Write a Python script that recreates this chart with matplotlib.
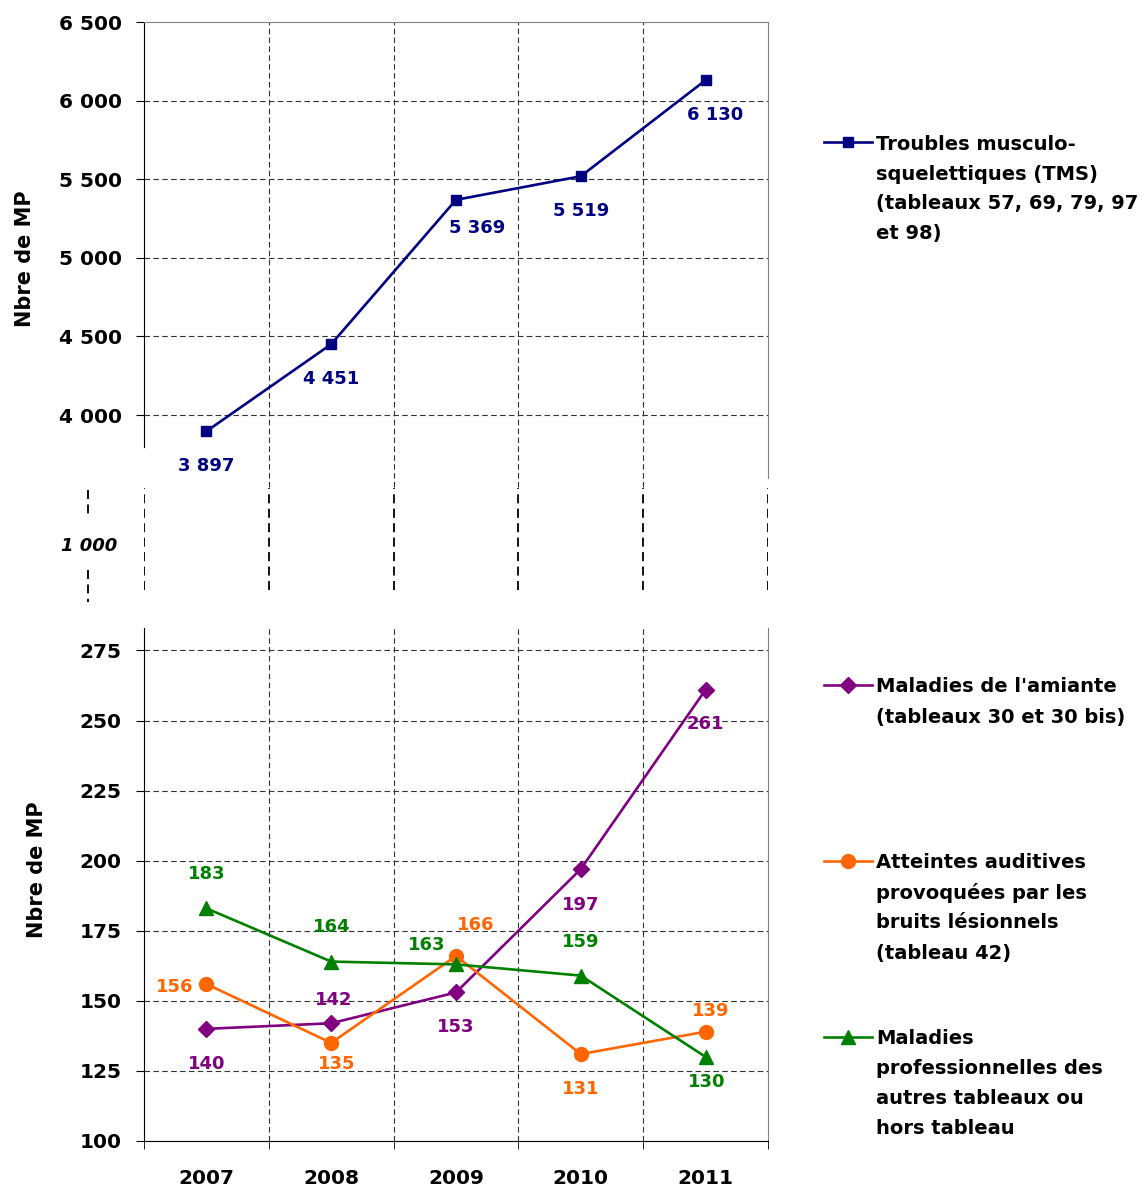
import matplotlib
matplotlib.use('Agg')
import matplotlib.pyplot as plt
from matplotlib.lines import Line2D
from matplotlib.ticker import FuncFormatter, FixedLocator

plt.rcParams['font.family'] = ['DejaVu Sans']

years = ['2007', '2008', '2009', '2010', '2011']
tms = [3897, 4451, 5369, 5519, 6130]
amiante = [140, 142, 153, 197, 261]
auditives = [156, 135, 166, 131, 139]
autres = [183, 164, 163, 159, 130]

NAVY, PURPLE, ORANGE, GREEN = '#000080', '#800080', '#FF6600', '#008000'
W, H = 1145, 1188

def fr(x0, y0, x1, y1):
    # pixel box -> figure fraction [left, bottom, width, height]
    return [x0 / W, 1 - y1 / H, (x1 - x0) / W, (y1 - y0) / H]

def sp(v, _=None):
    return f"{int(v):,}".replace(',', ' ')

fig = plt.figure(figsize=(W / 100, H / 100), dpi=100)
ax_top = fig.add_axes(fr(144, 22, 768, 478))
ax_mid = fig.add_axes(fr(144, 488, 768, 590))
ax_bot = fig.add_axes(fr(144, 628, 768, 1141))

x = list(range(len(years)))
bounds = [i - 0.5 for i in range(len(years) + 1)]
GRID = dict(color='#333333', linewidth=0.8, linestyle=(0, (5, 3)))
TICK_FS = 14.5
LW = 1.9
LBL = dict(fontsize=13, fontweight='bold', ha='center', va='center',
           textcoords='offset points')

# ---- top panel: TMS
ax_top.plot(x, tms, color=NAVY, lw=LW, marker='s', ms=7.5, zorder=3)
ax_top.set_ylim(3600, 6500)
ax_top.set_xlim(-0.5, 4.5)
ax_top.yaxis.set_major_locator(FixedLocator([4000, 4500, 5000, 5500, 6000, 6500]))
ax_top.yaxis.set_major_formatter(FuncFormatter(sp))
for yv in [4000, 4500, 5000, 5500, 6000]:
    ax_top.axhline(yv, **GRID, zorder=1)
for b in bounds[1:-1]:
    ax_top.axvline(b, ymin=-0.02, **GRID, zorder=1, clip_on=False)
ax_top.set_xticks([])
ax_top.spines['bottom'].set_visible(False)
ax_top.spines['top'].set_color('#808080')
ax_top.spines['right'].set_color('#808080')
ax_top.spines['left'].set_bounds(3800, 6500)
ax_top.tick_params(axis='y', direction='out', length=6, labelsize=TICK_FS, pad=10)
for lab in ax_top.get_yticklabels():
    lab.set_fontweight('bold')
ax_top.set_ylabel('Nbre de MP', fontsize=15, fontweight='bold')
ax_top.yaxis.set_label_coords(-0.175, 0.482)
offs_tms = [(0, -25), (0, -25), (15, -20), (0, -25), (7, -25)]
for xi, v, o in zip(x, tms, offs_tms):
    ax_top.annotate(sp(v), (xi, v), xytext=o, color=NAVY, **LBL)

# ---- middle break panel
ax_mid.set_xlim(-0.5, 4.5)
ax_mid.set_ylim(0, 1)
for s in ax_mid.spines.values():
    s.set_visible(False)
for b in bounds:
    ax_mid.axvline(b, color='black', lw=1.3, linestyle=(0, (5, 3)))
ax_mid.set_xticks([])
ax_mid.set_yticks([0.45])
ax_mid.set_yticklabels(['1 000'], fontsize=13, fontweight='bold', style='italic')
ax_mid.tick_params(axis='y', length=0, pad=19)
xb = -56 / 624
for y0, y1 in [(0.98, 0.70), (0.20, -0.12)]:
    ax_mid.plot([xb, xb], [y0, y1], transform=ax_mid.transAxes, color='black',
                lw=1.3, linestyle=(0, (5, 3)), clip_on=False)

# ---- bottom panel
ax_bot.plot(x, amiante, color=PURPLE, lw=LW, marker='D', ms=8.5, zorder=3)
ax_bot.plot(x, auditives, color=ORANGE, lw=LW, marker='o', ms=10, zorder=3)
ax_bot.plot(x, autres, color=GREEN, lw=LW, marker='^', ms=10, zorder=3)
ax_bot.set_ylim(100, 283)
ax_bot.set_xlim(-0.5, 4.5)
ax_bot.set_yticks([100, 125, 150, 175, 200, 225, 250, 275])
for yv in [125, 150, 175, 200, 225, 250, 275]:
    ax_bot.axhline(yv, **GRID, zorder=1)
for b in bounds[1:-1]:
    ax_bot.axvline(b, **GRID, zorder=1)
ax_bot.set_xticks(x)
ax_bot.set_xticklabels(years)
ax_bot.set_xticks(bounds, minor=True)
ax_bot.tick_params(axis='x', which='major', length=0, labelsize=TICK_FS, pad=20)
ax_bot.tick_params(axis='x', which='minor', length=6, direction='out')
ax_bot.tick_params(axis='y', direction='out', length=6, labelsize=TICK_FS, pad=10)
for lab in ax_bot.get_yticklabels() + ax_bot.get_xticklabels():
    lab.set_fontweight('bold')
ax_bot.spines['top'].set_visible(False)
ax_bot.spines['right'].set_color('#808080')
ax_bot.set_ylabel('Nbre de MP', fontsize=15, fontweight='bold')
ax_bot.yaxis.set_label_coords(-0.155, 0.528)

offs_am = [(0, -25), (2, 17), (0, -25), (0, -26), (0, -25)]
offs_au = [(-23, -2), (4, -15), (14, 22), (0, -25), (4, 15)]
offs_ot = [(0, 25), (0, 25), (-21, 14), (0, 24), (1, -18)]
for series, offs, col in [(amiante, offs_am, PURPLE), (auditives, offs_au, ORANGE),
                          (autres, offs_ot, GREEN)]:
    for xi, v, o in zip(x, series, offs):
        ax_bot.annotate(str(v), (xi, v), xytext=o, color=col, **LBL)

# ---- legends (drawn in figure pixels)
legend_items = [
    (NAVY, 's', 7, 142, ['Troubles musculo-', 'squelettiques (TMS)',
                         '(tableaux 57, 69, 79, 97', 'et 98)']),
    (PURPLE, 'D', 8, 685, ["Maladies de l'amiante", '(tableaux 30 et 30 bis)']),
    (ORANGE, 'o', 10, 861, ['Atteintes auditives', 'provoquées par les',
                            'bruits lésionnels', '(tableau 42)']),
    (GREEN, '^', 10, 1037, ['Maladies', 'professionnelles des',
                            'autres tableaux ou', 'hors tableau']),
]
for col, mk, ms, ypx, lines in legend_items:
    yf = 1 - ypx / H
    fig.add_artist(Line2D([824 / W, 872 / W], [yf, yf], color=col, lw=LW,
                          transform=fig.transFigure))
    fig.add_artist(Line2D([848 / W], [yf], color=col, marker=mk, ms=ms,
                          transform=fig.transFigure))
    for i, line in enumerate(lines):
        fig.text(876 / W, 1 - (ypx + 30 * i) / H, line, fontsize=14,
                 fontweight='bold', va='center_baseline', ha='left')

fig.savefig('out.png', dpi=100, facecolor='white')
